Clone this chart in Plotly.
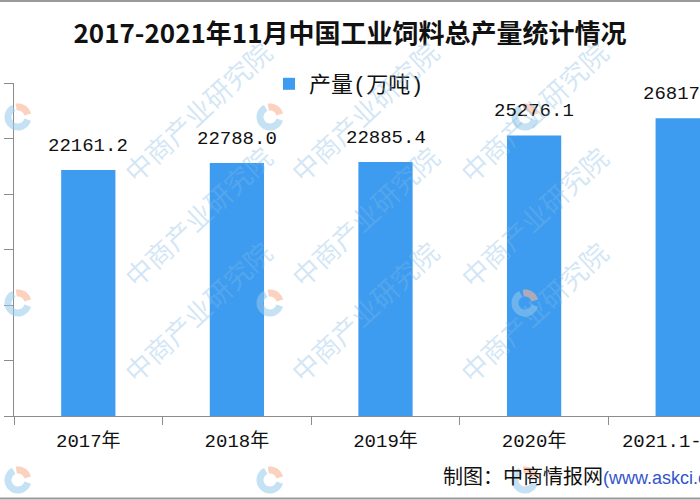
import math
import plotly.graph_objects as go

# ---- data ----
categories = ["2017年", "2018年", "2019年", "2020年", "2021.1-11月"]
values = [22161.2, 22788.0, 22885.4, 25276.1, 26817.0]
value_labels = ["22161.2", "22788.0", "22885.4", "25276.1", "26817.0"]
series_name = "产量(万吨)"
title_text = "2017-2021年11月中国工业饲料总产量统计情况"
source_text = "制图：中商情报网"
source_url = "(www.askci.com)"
watermark_text = "中商产业研究院"

# ---- layout geometry (pixels) ----
W, H = 700, 500
ML, MR, MT, MB = 14, 0, 83, 84
PW, PH = W - ML - MR, H - MT - MB
CAT_W = 148.6


def px2paper(x, y):
    return (x - ML) / PW, (H - MB - y) / PH


BAR_COLOR = "#3d9cf0"
AXIS_COLOR = "#8c8c8c"
MONO = "Liberation Mono, Noto Sans CJK SC"

fig = go.Figure()
fig.add_trace(go.Bar(
    x=categories, y=values, name=series_name,
    marker=dict(color=BAR_COLOR, line=dict(width=0)),
    width=0.365, showlegend=True,
))

# value labels above bars
for c, v, t in zip(categories, values, value_labels):
    fig.add_annotation(x=c, y=v, xref="x", yref="y", text=t, showarrow=False,
                       yanchor="bottom", yshift=11,
                       font=dict(family=MONO, size=19, color="#111111"))

x_max = (W - ML - MR) / CAT_W - 0.5

fig.update_layout(
    width=W, height=H,
    margin=dict(l=ML, r=MR, t=MT, b=MB, pad=0, autoexpand=False),
    paper_bgcolor="white", plot_bgcolor="white",
    title=dict(text=title_text, x=0.5, xref="container", xanchor="center",
               y=1 - 34 / H, yref="container", yanchor="middle",
               font=dict(family="Noto Sans CJK SC", size=26, color="#111111", weight=700)),
    legend=dict(orientation="h", x=px2paper(349, 0)[0], xanchor="center",
                y=px2paper(0, 84)[1], yanchor="middle", bgcolor="rgba(0,0,0,0)",
                font=dict(family=MONO, size=22, color="#111111"),
                itemwidth=30),
    xaxis=dict(type="category", range=[-0.5, x_max], autorange=False, automargin=False,
               showline=True,
               linecolor=AXIS_COLOR, linewidth=1, ticks="outside", tickson="boundaries",
               ticklen=8, tickcolor=AXIS_COLOR, showgrid=False, zeroline=False,
               ticklabelstandoff=7,
               tickfont=dict(family=MONO, size=19, color="#111111")),
    yaxis=dict(range=[0, 30000], autorange=False, automargin=False,
               tickvals=[0, 5000, 10000, 15000, 20000, 25000, 30000],
               showticklabels=False, showline=True, linecolor=AXIS_COLOR, linewidth=1,
               ticks="outside", ticklen=9, tickcolor=AXIS_COLOR, showgrid=False,
               zeroline=False),
    bargap=0.6,
)

# source note
sx, sy = px2paper(441, 475)
fig.add_annotation(x=sx, y=sy, xref="paper", yref="paper", xanchor="left", yanchor="middle",
                   showarrow=False,
                   text=source_text + '<span style="color:#3355cc;font-family:Liberation Sans;font-size:18px">'
                        + source_url + "</span>",
                   font=dict(family="Noto Sans CJK SC", size=20, color="#111111"))

# frame lines top and bottom
for yy in (1, 498.5):
    x0, y0 = px2paper(0, yy)
    x1, _ = px2paper(W, yy)
    fig.add_shape(type="line", xref="paper", yref="paper", x0=x0, x1=x1, y0=y0, y1=y0,
                  line=dict(color="#9a9a9a", width=2), layer="above")

# watermarks
logo_cols = [18, 270, 525]
logo_rows = [117, 303, 480]


def arc_path(cx, cy, r, a0, a1, n=24):
    pts = []
    for i in range(n + 1):
        a = math.radians(a0 + (a1 - a0) * i / n)
        px, py = px2paper(cx + r * math.cos(a), cy - r * math.sin(a))
        pts.append(f"{px:.5f},{py:.5f}")
    return "M" + " L".join(pts)


for lx in logo_cols:
    for ly in logo_rows:
        fig.add_shape(type="path", xref="paper", yref="paper",
                      path=arc_path(lx, ly, 10, 115, 345),
                      line=dict(color="rgba(150,200,235,0.55)", width=7), layer="above")
        fig.add_shape(type="path", xref="paper", yref="paper",
                      path=arc_path(lx, ly, 10, 15, 100),
                      line=dict(color="rgba(248,180,150,0.6)", width=7), layer="above")
        tx, ty = px2paper(lx + 94, ly - 87)
        fig.add_annotation(x=tx, y=ty, xref="paper", yref="paper", showarrow=False,
                           text=watermark_text, textangle=-43,
                           font=dict(family="Noto Sans CJK SC", size=27,
                                     color="rgba(130,185,228,0.35)"))

fig.write_html("out.html")
